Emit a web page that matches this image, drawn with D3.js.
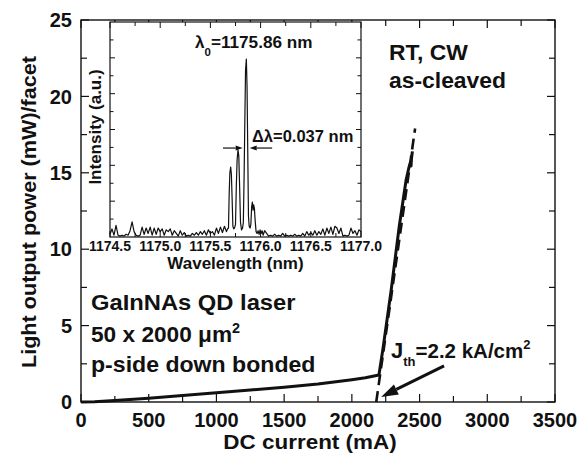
<!DOCTYPE html>
<html>
<head>
<meta charset="utf-8">
<script src="https://cdn.jsdelivr.net/npm/d3@7/dist/d3.min.js"></script>
<style>
  html, body { margin: 0; padding: 0; background: #fff; }
  svg { display: block; }
  text { font-family: "Liberation Sans", Arial, Helvetica, sans-serif; font-weight: bold; fill: #111; }
</style>
</head>
<body>
<svg id="chart" width="587" height="462"></svg>
<script>
// ---- L-I characteristic (DC current in mA, output power in mW per facet) ----
const currentMA = [0, 100, 250, 500, 750, 1000, 1250, 1500, 1750, 2000, 2100, 2200,
                   2230, 2260, 2290, 2320, 2350, 2380, 2400, 2420, 2433, 2437, 2441, 2447];
const powerMW   = [0, 0.02, 0.1, 0.25, 0.42, 0.6, 0.78, 0.97, 1.18, 1.46, 1.59, 1.77,
                   3.5, 5.4, 7.3, 9.4, 11.5, 13.3, 14.5, 15.3, 15.7, 15.45, 16.0, 16.4];

// ---- linear fit above threshold (dashed) ----
const fitCurrentMA = [2180, 2467];
const fitPowerMW   = [0, 17.9];

// ---- main axis ticks ----
const xTickValues = [0, 500, 1000, 1500, 2000, 2500, 3000, 3500];
const yTickValues = [0, 5, 10, 15, 20, 25];

// ---- lasing spectrum (inset) ----
const wavelengthNM = [
  1174.50, 1174.52, 1174.54, 1174.56, 1174.58, 1174.60, 1174.62, 1174.64, 1174.66, 1174.68,
  1174.70, 1174.72, 1174.74, 1174.76, 1174.78, 1174.80, 1174.82, 1174.84, 1174.86, 1174.88,
  1174.90, 1174.92, 1174.94, 1174.96, 1174.98, 1175.00, 1175.02, 1175.04, 1175.06, 1175.08,
  1175.10, 1175.12, 1175.14, 1175.16, 1175.18, 1175.20, 1175.22, 1175.24, 1175.26, 1175.28,
  1175.30, 1175.32, 1175.34, 1175.36, 1175.38, 1175.40, 1175.42, 1175.44, 1175.46, 1175.48,
  1175.50, 1175.52, 1175.54, 1175.56, 1175.58, 1175.60, 1175.62, 1175.64, 1175.66, 1175.67,
  1175.680, 1175.687, 1175.694, 1175.702, 1175.709, 1175.716, 1175.724, 1175.732, 1175.740,
  1175.750, 1175.758, 1175.766, 1175.775, 1175.783, 1175.792, 1175.800, 1175.810, 1175.820,
  1175.828, 1175.836, 1175.843, 1175.850, 1175.858, 1175.865, 1175.872, 1175.879, 1175.886,
  1175.895, 1175.903, 1175.911, 1175.918, 1175.925, 1175.931, 1175.938, 1175.946, 1175.955,
  1175.965, 1175.975, 1175.985, 1175.995, 1176.005, 1176.015, 1176.025, 1176.04, 1176.06,
  1176.08, 1176.10, 1176.12, 1176.14, 1176.16, 1176.18, 1176.20, 1176.22, 1176.24, 1176.26,
  1176.28, 1176.30, 1176.32, 1176.34, 1176.36, 1176.38, 1176.40, 1176.42, 1176.44, 1176.46,
  1176.48, 1176.50, 1176.52, 1176.54, 1176.56, 1176.58, 1176.60, 1176.62, 1176.64, 1176.66,
  1176.68, 1176.70, 1176.72, 1176.74, 1176.76, 1176.78, 1176.80, 1176.82, 1176.84, 1176.86,
  1176.88, 1176.90, 1176.92, 1176.94, 1176.96, 1176.98, 1177.00
];
const intensityAU = [
  0.15, 0.45, 0.1, 0.65, 0.1, 0.05, 0.1, 0.05, 0.15, 0.1,
  0.35, 0.84, 0.3, 0.1, 0.05, 0.1, 0.55, 0.15, 0.5, 0.2,
  0.55, 0.1, 0.5, 0.15, 0.5, 0.3, 0.45, 0.1, 0.4, 0.3,
  0.45, 0.1, 0.35, 0.2, 0.05, 0.35, 0.1, 0.25, 0.05, 0.1,
  0.05, 0.2, 0.1, 0.25, 0.1, 0.3, 0.15, 0.35, 0.1, 0.4,
  0.2, 0.3, 0.1, 0.5, 0.2, 0.55, 0.25, 0.6, 0.3, 0.45,
  0.5, 2.4, 3.6, 3.9, 3.5, 2.2, 0.6, 0.45, 0.5,
  0.7, 2.8, 4.3, 4.86, 4.5, 2.6, 0.8, 0.4, 0.5,
  0.8, 3.5, 6.5, 9.3, 9.93, 8.4, 4.8, 1.2, 0.6,
  0.5, 0.7, 1.7, 1.95, 1.5, 1.8, 1.6, 0.9, 0.3,
  0.2, 0.35, 0.15, 0.4, 0.2, 0.35, 0.1, 0.35, 0.2,
  0.05, 0.1, 0.05, 0.15, 0.05, 0.1, 0.05, 0.2, 0.05, 0.1,
  0.05, 0.1, 0.05, 0.15, 0.05, 0.1, 0.05, 0.2, 0.05, 0.3,
  0.1, 0.25, 0.1, 0.35, 0.1, 0.3, 0.15, 0.45, 0.1, 0.5,
  0.2, 0.55, 0.15, 0.6, 0.5, 0.2, 0.5, 0.05, 0.1, 0.05,
  0.1, 0.5, 0.2, 0.35, 0.1, 0.4, 0.3
];
const insetTickValues = [1174.5, 1175.0, 1175.5, 1176.0, 1176.5, 1177.0];
const peakWavelength = 1175.86;
const linewidthNM = 0.037;

const svg = d3.select("#chart");

// text placed at (tx, ty) and widened slightly along x
function wideText(g, tx, ty, size, sx, rotate) {
  const tr = `translate(${tx},${ty})` + (rotate ? ` rotate(${rotate})` : "") + ` scale(${sx},1)`;
  return g.append("text").attr("transform", tr).attr("font-size", size);
}

// ================= main panel =================
const x = d3.scaleLinear().domain([0, 3500]).range([81, 555]);
const y = d3.scaleLinear().domain([0, 25]).range([402, 20]);

const main = svg.append("g");

// tick marks pointing inward on all four sides
const xMinor = d3.range(0, 3501, 250);
const yMinor = d3.range(0, 25.01, 2.5);
const tickG = main.append("g").attr("stroke", "#111").attr("stroke-width", 1.2);
xMinor.forEach(v => {
  const len = v % 500 === 0 ? 8 : 6;
  tickG.append("line").attr("x1", x(v)).attr("x2", x(v)).attr("y1", y(0)).attr("y2", y(0) - len);
  tickG.append("line").attr("x1", x(v)).attr("x2", x(v)).attr("y1", y(25)).attr("y2", y(25) + len);
});
yMinor.forEach(v => {
  const len = v % 5 === 0 ? 8 : 6;
  tickG.append("line").attr("x1", x(0)).attr("x2", x(0) + len).attr("y1", y(v)).attr("y2", y(v));
  tickG.append("line").attr("x1", x(3500)).attr("x2", x(3500) - len).attr("y1", y(v)).attr("y2", y(v));
});

// tick labels
main.append("g").selectAll("text").data(xTickValues).join("text")
  .attr("x", d => x(d)).attr("y", 427)
  .attr("text-anchor", "middle").attr("font-size", 20)
  .text(d => d);
main.append("g").selectAll("text").data(yTickValues).join("text")
  .attr("x", 72).attr("y", d => y(d)).attr("dy", "0.36em")
  .attr("text-anchor", "end").attr("font-size", 20)
  .text(d => d);

// axis titles
wideText(main, 310, 449, 21, 1.07).attr("text-anchor", "middle").text("DC current (mA)");
wideText(main, 36, 212, 21, 1.03, -90).attr("text-anchor", "middle").text("Light output power (mW)/facet");

// L-I curve
const liLine = d3.line().x(d => x(d[0])).y(d => y(d[1]));
main.append("path")
  .datum(currentMA.map((c, i) => [c, powerMW[i]]))
  .attr("d", liLine)
  .attr("fill", "none").attr("stroke", "#111").attr("stroke-width", 3)
  .attr("stroke-linejoin", "round");

// dashed linear fit
main.append("path")
  .datum(fitCurrentMA.map((c, i) => [c, fitPowerMW[i]]))
  .attr("d", liLine)
  .attr("fill", "none").attr("stroke", "#111").attr("stroke-width", 2.6)
  .attr("stroke-dasharray", "11,6");

// frame
main.append("rect")
  .attr("x", x(0)).attr("y", y(25))
  .attr("width", x(3500) - x(0)).attr("height", y(0) - y(25))
  .attr("fill", "none").attr("stroke", "#111").attr("stroke-width", 1.4);

// annotations
wideText(main, 389, 60, 22, 1.04).text("RT, CW");
wideText(main, 389, 88, 22, 1.04).text("as-cleaved");
wideText(main, 91, 310, 22, 1.08).text("GaInNAs QD laser");
const area = wideText(main, 91, 341.5, 22, 1.03);
area.append("tspan").text("50 x 2000 \u03bcm");
area.append("tspan").attr("font-size", 14).attr("dy", -9).text("2");
wideText(main, 91, 371.5, 22, 1.05).text("p-side down bonded");

// threshold label and arrow
const jth = main.append("text").attr("x", 391).attr("y", 358).attr("font-size", 22);
jth.append("tspan").text("J");
jth.append("tspan").attr("font-size", 13).attr("dy", 8).text("th");
jth.append("tspan").attr("dy", -8).attr("font-size", 20.5).text("=2.2 kA/cm");
jth.append("tspan").attr("font-size", 13).attr("dy", -9).text("2");

function arrow(g, x1, y1, x2, y2, headLen, headW, width) {
  const ang = Math.atan2(y2 - y1, x2 - x1);
  const bx = x2 - headLen * Math.cos(ang), by = y2 - headLen * Math.sin(ang);
  g.append("line").attr("x1", x1).attr("y1", y1).attr("x2", bx).attr("y2", by)
    .attr("stroke", "#111").attr("stroke-width", width);
  const px = -Math.sin(ang) * headW / 2, py = Math.cos(ang) * headW / 2;
  g.append("polygon")
    .attr("points", `${x2},${y2} ${bx + px},${by + py} ${bx - px},${by - py}`)
    .attr("fill", "#111");
}
arrow(main, x(2681), y(2.36), x(2216), y(0.33), 17, 11, 3);

// ================= inset: lasing spectrum =================
const ix = d3.scaleLinear().domain([1174.5, 1177.0]).range([110, 361]);
const iy = d3.scaleLinear().domain([0, 12]).range([237, 22]);
const inset = svg.append("g");

inset.append("rect")
  .attr("x", ix(1174.5)).attr("y", iy(12))
  .attr("width", ix(1177.0) - ix(1174.5)).attr("height", iy(0) - iy(12))
  .attr("fill", "#fff");

const iTicks = inset.append("g").attr("stroke", "#111").attr("stroke-width", 1);
d3.range(0, 11).forEach(k => {
  const v = 1174.5 + k * 0.25;
  const len = k % 2 === 0 ? 6 : 4;
  iTicks.append("line").attr("x1", ix(v)).attr("x2", ix(v)).attr("y1", iy(12)).attr("y2", iy(12) + len);
  iTicks.append("line").attr("x1", ix(v)).attr("x2", ix(v)).attr("y1", iy(0)).attr("y2", iy(0) - len);
});
d3.range(1, 12).forEach(v => {
  const len = v % 2 === 0 ? 5 : 3.5;
  iTicks.append("line").attr("x1", ix(1174.5)).attr("x2", ix(1174.5) + len).attr("y1", iy(v)).attr("y2", iy(v));
  iTicks.append("line").attr("x1", ix(1177.0)).attr("x2", ix(1177.0) - len).attr("y1", iy(v)).attr("y2", iy(v));
});

const specLine = d3.line().x(d => ix(d[0])).y(d => iy(d[1]));
inset.append("path")
  .datum(wavelengthNM.map((w, i) => [w, intensityAU[i]]))
  .attr("d", specLine)
  .attr("fill", "none").attr("stroke", "#111").attr("stroke-width", 1.2)
  .attr("stroke-linejoin", "round");

inset.append("rect")
  .attr("x", ix(1174.5)).attr("y", iy(12))
  .attr("width", ix(1177.0) - ix(1174.5)).attr("height", iy(0) - iy(12))
  .attr("fill", "none").attr("stroke", "#111").attr("stroke-width", 1.2);

inset.append("g").selectAll("text").data(insetTickValues).join("text")
  .attr("x", d => ix(d)).attr("y", 251)
  .attr("text-anchor", "middle").attr("font-size", 14)
  .text(d => d.toFixed(1));
inset.append("text").attr("x", 235.5).attr("y", 269)
  .attr("text-anchor", "middle").attr("font-size", 17)
  .text("Wavelength (nm)");
inset.append("text").attr("transform", "translate(101,127) rotate(-90)")
  .attr("text-anchor", "middle").attr("font-size", 17)
  .text("Intensity (a.u.)");

// peak wavelength label
const lam = wideText(inset, 195, 48, 16.5, 1.04);
lam.append("tspan").text("\u03bb");
lam.append("tspan").attr("font-size", 11).attr("dy", 8).text("0");
lam.append("tspan").attr("dy", -8).text("=" + peakWavelength.toFixed(2) + " nm");

// linewidth marker at half maximum
const halfMax = d3.max(intensityAU) / 2;
arrow(inset, ix(1175.625), iy(halfMax), ix(peakWavelength - linewidthNM / 2 - 0.02), iy(halfMax), 7, 5, 1.2);
arrow(inset, ix(1176.115), iy(halfMax), ix(peakWavelength + linewidthNM / 2 + 0.013), iy(halfMax), 7, 5, 1.2);
const dl = inset.append("text").attr("x", 252).attr("y", 141.5).attr("font-size", 16.5);
dl.append("tspan").text("\u0394\u03bb=" + linewidthNM.toFixed(3) + " nm");
</script>
</body>
</html>
